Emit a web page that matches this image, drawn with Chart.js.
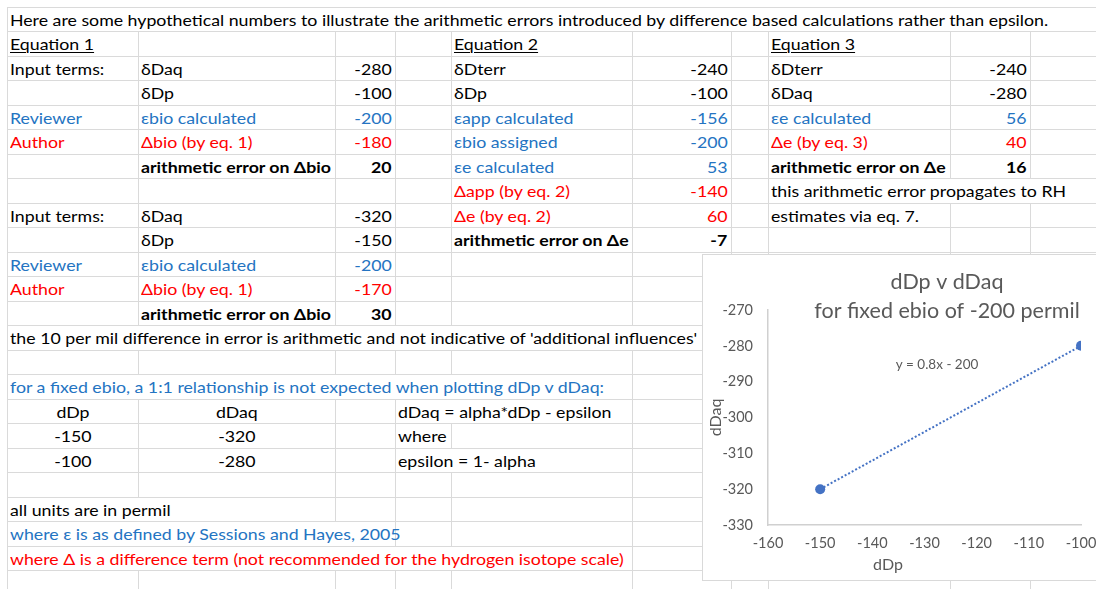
<!DOCTYPE html>
<html><head><meta charset="utf-8">
<script src="https://cdn.jsdelivr.net/npm/chart.js@4.4.0/dist/chart.umd.min.js"></script>
<style>
html,body{margin:0;padding:0;background:#fff;}
body{width:1096px;height:589px;overflow:hidden;position:relative;font-family:Lato,'Open Sans',sans-serif;}
#sheet{position:absolute;left:0;top:0;width:1096px;height:589px;}
.hl{position:absolute;height:1px;background:#dadada;}
.vl{position:absolute;width:1px;background:#dadada;}
.cell{position:absolute;display:flex;box-sizing:border-box;padding:1px 3px 0 3px;white-space:nowrap;font-size:16px;line-height:24.5px;color:#000;}
.cell span{display:inline-block;transform:scaleX(var(--sx,1));}
.cell.l{justify-content:flex-start;} .cell.l span{transform-origin:left center;}
.cell.r{justify-content:flex-end;} .cell.r span{transform-origin:right center;}
.cell.c{justify-content:center;} .cell.c span{transform-origin:center center;}
.blue{color:#2474C2;} .red{color:#FF0000;} .bold{font-weight:bold;}
.und span{text-decoration:underline;text-underline-offset:2px;text-decoration-thickness:1px;}
#chartBox{position:absolute;left:702px;top:254px;width:490px;height:327px;box-sizing:border-box;border:1px solid #d9d9d9;background:#fff;}
#c{display:block;}
</style></head><body>
<div id="sheet"></div>
<div id="chartBox"><canvas id="c" width="488" height="325"></canvas></div>
<script>
// ---- chart data ----
const dDp = [-150, -100];
const dDaq = [-320, -280];
const xTickMin = -160, xTickMax = -100, xTickStep = 10;
const yTickMin = -330, yTickMax = -270, yTickStep = 10;
const chartTitle = ['dDp v dDaq', 'for fixed ebio of -200 permil'];
const xTitle = 'dDp';
const yTitle = 'dDaq';

// ---- spreadsheet text ----
const COLS = [7, 138.3, 335, 394.5, 450.5, 631.5, 730.5, 767.5, 949.5, 1030, 1200];
const ROW_TOP = 6.5, ROW_H = 24.5, NROWS = 24;
// [row, col, text, align, style, span]
const cells = [
 [0,0,'Here are some hypothetical numbers to illustrate the arithmetic errors introduced by difference based calculations rather than epsilon.','l','',10],
 [1,0,'Equation 1','l','und',1],[1,4,'Equation 2','l','und',1],[1,7,'Equation 3','l','und',1],
 [2,0,'Input terms:','l','',1],[2,1,'δDaq','l','',1],[2,2,'-280','r','',1],[2,4,'δDterr','l','',1],[2,5,'-240','r','',1],[2,7,'δDterr','l','',1],[2,8,'-240','r','',1],
 [3,1,'δDp','l','',1],[3,2,'-100','r','',1],[3,4,'δDp','l','',1],[3,5,'-100','r','',1],[3,7,'δDaq','l','',1],[3,8,'-280','r','',1],
 [4,0,'Reviewer','l','blue',1],[4,1,'εbio calculated','l','blue',1],[4,2,'-200','r','blue',1],[4,4,'εapp calculated','l','blue',1],[4,5,'-156','r','blue',1],[4,7,'εe calculated','l','blue',1],[4,8,'56','r','blue',1],
 [5,0,'Author','l','red',1],[5,1,'Δbio (by eq. 1)','l','red',1],[5,2,'-180','r','red',1],[5,4,'εbio assigned','l','blue',1],[5,5,'-200','r','blue',1],[5,7,'Δe (by eq. 3)','l','red',1],[5,8,'40','r','red',1],
 [6,1,'arithmetic error on Δbio','l','bold',1],[6,2,'20','r','bold',1],[6,4,'εe calculated','l','blue',1],[6,5,'53','r','blue',1],[6,7,'arithmetic error on Δe','l','bold',1],[6,8,'16','r','bold',1],
 [7,4,'Δapp (by eq. 2)','l','red',1],[7,5,'-140','r','red',1],[7,7,'this arithmetic error propagates to RH','l','',3],
 [8,0,'Input terms:','l','',1],[8,1,'δDaq','l','',1],[8,2,'-320','r','',1],[8,4,'Δe (by eq. 2)','l','red',1],[8,5,'60','r','red',1],[8,7,'estimates via eq. 7.','l','',1],
 [9,1,'δDp','l','',1],[9,2,'-150','r','',1],[9,4,'arithmetic error on Δe','l','bold',1],[9,5,'-7','r','bold',1],
 [10,0,'Reviewer','l','blue',1],[10,1,'εbio calculated','l','blue',1],[10,2,'-200','r','blue',1],
 [11,0,'Author','l','red',1],[11,1,'Δbio (by eq. 1)','l','red',1],[11,2,'-170','r','red',1],
 [12,1,'arithmetic error on Δbio','l','bold',1],[12,2,'30','r','bold',1],
 [13,0,"the 10 per mil difference in error is arithmetic and not indicative of 'additional influences'",'l','',6],
 [15,0,'for a fixed ebio, a 1:1 relationship is not expected when plotting dDp v dDaq:','l','blue',5],
 [16,0,'dDp','c','',1],[16,1,'dDaq','c','',1],[16,3,'dDaq = alpha*dDp - epsilon','l','',2],
 [17,0,'-150','c','',1],[17,1,'-320','c','',1],[17,3,'where','l','',1],
 [18,0,'-100','c','',1],[18,1,'-280','c','',1],[18,3,'epsilon = 1- alpha','l','',2],
 [20,0,'all units are in permil','l','',2],
 [21,0,'where ε is as defined by Sessions and Hayes, 2005','l','blue',3],
 [22,0,'where Δ is a difference term (not recommended for the hydrogen isotope scale)','l','red',5]
];

(function buildSheet(){
  const sheet = document.getElementById('sheet');
  const FS = 16;
  const mc = document.createElement('canvas').getContext('2d');
  mc.font = FS + 'px Lato';
  const w = mc.measureText(cells[0][2]).width;
  const sx = Math.max(0.85, Math.min(1.2, 1039 / w));
  document.body.style.setProperty('--sx', sx.toFixed(4));
  const hidden = {};
  cells.forEach(c => { for (let k = c[1] + 1; k < c[1] + c[5]; k++) hidden[c[0] + '_' + k] = 1; });
  for (let r = 0; r <= NROWS; r++) {
    const d = document.createElement('div'); d.className = 'hl';
    d.style.left = Math.round(COLS[0]) + 'px'; d.style.width = (1096 - Math.round(COLS[0])) + 'px';
    d.style.top = Math.round(ROW_TOP + ROW_H * r) + 'px'; sheet.appendChild(d);
  }
  for (let r = 0; r < NROWS; r++) {
    const y0 = Math.round(ROW_TOP + ROW_H * r), y1 = Math.round(ROW_TOP + ROW_H * (r + 1));
    for (let j = 0; j < COLS.length - 1; j++) {
      if (hidden[r + '_' + j]) continue;
      const d = document.createElement('div'); d.className = 'vl';
      d.style.left = Math.round(COLS[j]) + 'px'; d.style.top = y0 + 'px'; d.style.height = (y1 - y0) + 'px';
      sheet.appendChild(d);
    }
  }
  cells.forEach(([r, c, t, a, st, sp]) => {
    const d = document.createElement('div');
    d.className = 'cell ' + a + ' ' + st;
    d.style.left = COLS[c] + 'px'; d.style.width = (COLS[c + sp] - COLS[c]) + 'px';
    d.style.top = (ROW_TOP + ROW_H * r) + 'px'; d.style.height = ROW_H + 'px';
    const s = document.createElement('span'); s.textContent = t; d.appendChild(s);
    sheet.appendChild(d);
  });
})();

// ---- trendline (least squares from data) ----
const n = dDp.length;
const mx = dDp.reduce((a, b) => a + b, 0) / n, my = dDaq.reduce((a, b) => a + b, 0) / n;
let sxy = 0, sxx = 0;
for (let i = 0; i < n; i++) { sxy += (dDp[i] - mx) * (dDaq[i] - my); sxx += (dDp[i] - mx) ** 2; }
const slope = sxy / sxx, intercept = my - slope * mx;
const fmt = v => String(Number(v.toFixed(4)));
const eqLabel = 'y = ' + fmt(slope) + 'x ' + (intercept < 0 ? '- ' : '+ ') + fmt(Math.abs(intercept));
const xMin = Math.min(...dDp), xMax = Math.max(...dDp);
const trend = [{x: xMin, y: slope * xMin + intercept}, {x: xMax, y: slope * xMax + intercept}];

const GRAY = '#595959', BLUE = '#4472C4';
Chart.defaults.font.family = 'Lato';
const textPlugin = {
  id: 'sheetText',
  afterDraw(chart) {
    const ctx = chart.ctx;
    ctx.save();
    ctx.fillStyle = GRAY; ctx.textAlign = 'center'; ctx.textBaseline = 'middle';
    ctx.font = '21.5px Lato';
    ctx.fillText(chartTitle[0], 244, 27);
    ctx.fillText(chartTitle[1], 244, 56);
    ctx.font = '16px Lato';
    ctx.fillText(xTitle, 185, 310);
    ctx.font = '13.5px Lato';
    ctx.fillText(eqLabel, 234, 110);
    ctx.restore();
  }
};

new Chart(document.getElementById('c'), {
  type: 'scatter',
  data: {
    datasets: [
      { data: dDp.map((x, i) => ({x, y: dDaq[i]})), pointRadius: 5, pointHoverRadius: 5,
        backgroundColor: BLUE, borderColor: BLUE, borderWidth: 0, showLine: false },
      { data: trend, showLine: true, pointRadius: 0, borderColor: BLUE, borderWidth: 2,
        borderDash: [2, 2], fill: false }
    ]
  },
  options: {
    responsive: false, devicePixelRatio: 1, animation: false,
    layout: { padding: { left: 0, top: 55, right: 110, bottom: 0 } },
    plugins: { legend: { display: false }, tooltip: { enabled: false }, title: { display: false } },
    scales: {
      x: {
        type: 'linear', min: xTickMin, max: xTickMax,
        ticks: { stepSize: xTickStep, color: GRAY, font: { size: 14.5 }, padding: 10 },
        grid: { display: false, drawTicks: false },
        border: { display: true, color: '#d0d0d0', width: 1.5 },
        afterFit(s) { s.height = 55; }
      },
      y: {
        type: 'linear', min: yTickMin, max: yTickMax,
        ticks: { stepSize: yTickStep, color: GRAY, font: { size: 14.5 }, padding: 15 },
        grid: { display: false, drawTicks: false },
        border: { display: true, color: '#d0d0d0', width: 1.5 },
        title: { display: true, text: yTitle, color: GRAY, font: { size: 16 }, padding: { top: 3, bottom: 0 } },
        afterFit(s) { s.width = 65; }
      }
    }
  },
  plugins: [textPlugin]
});
</script>
</body></html>
